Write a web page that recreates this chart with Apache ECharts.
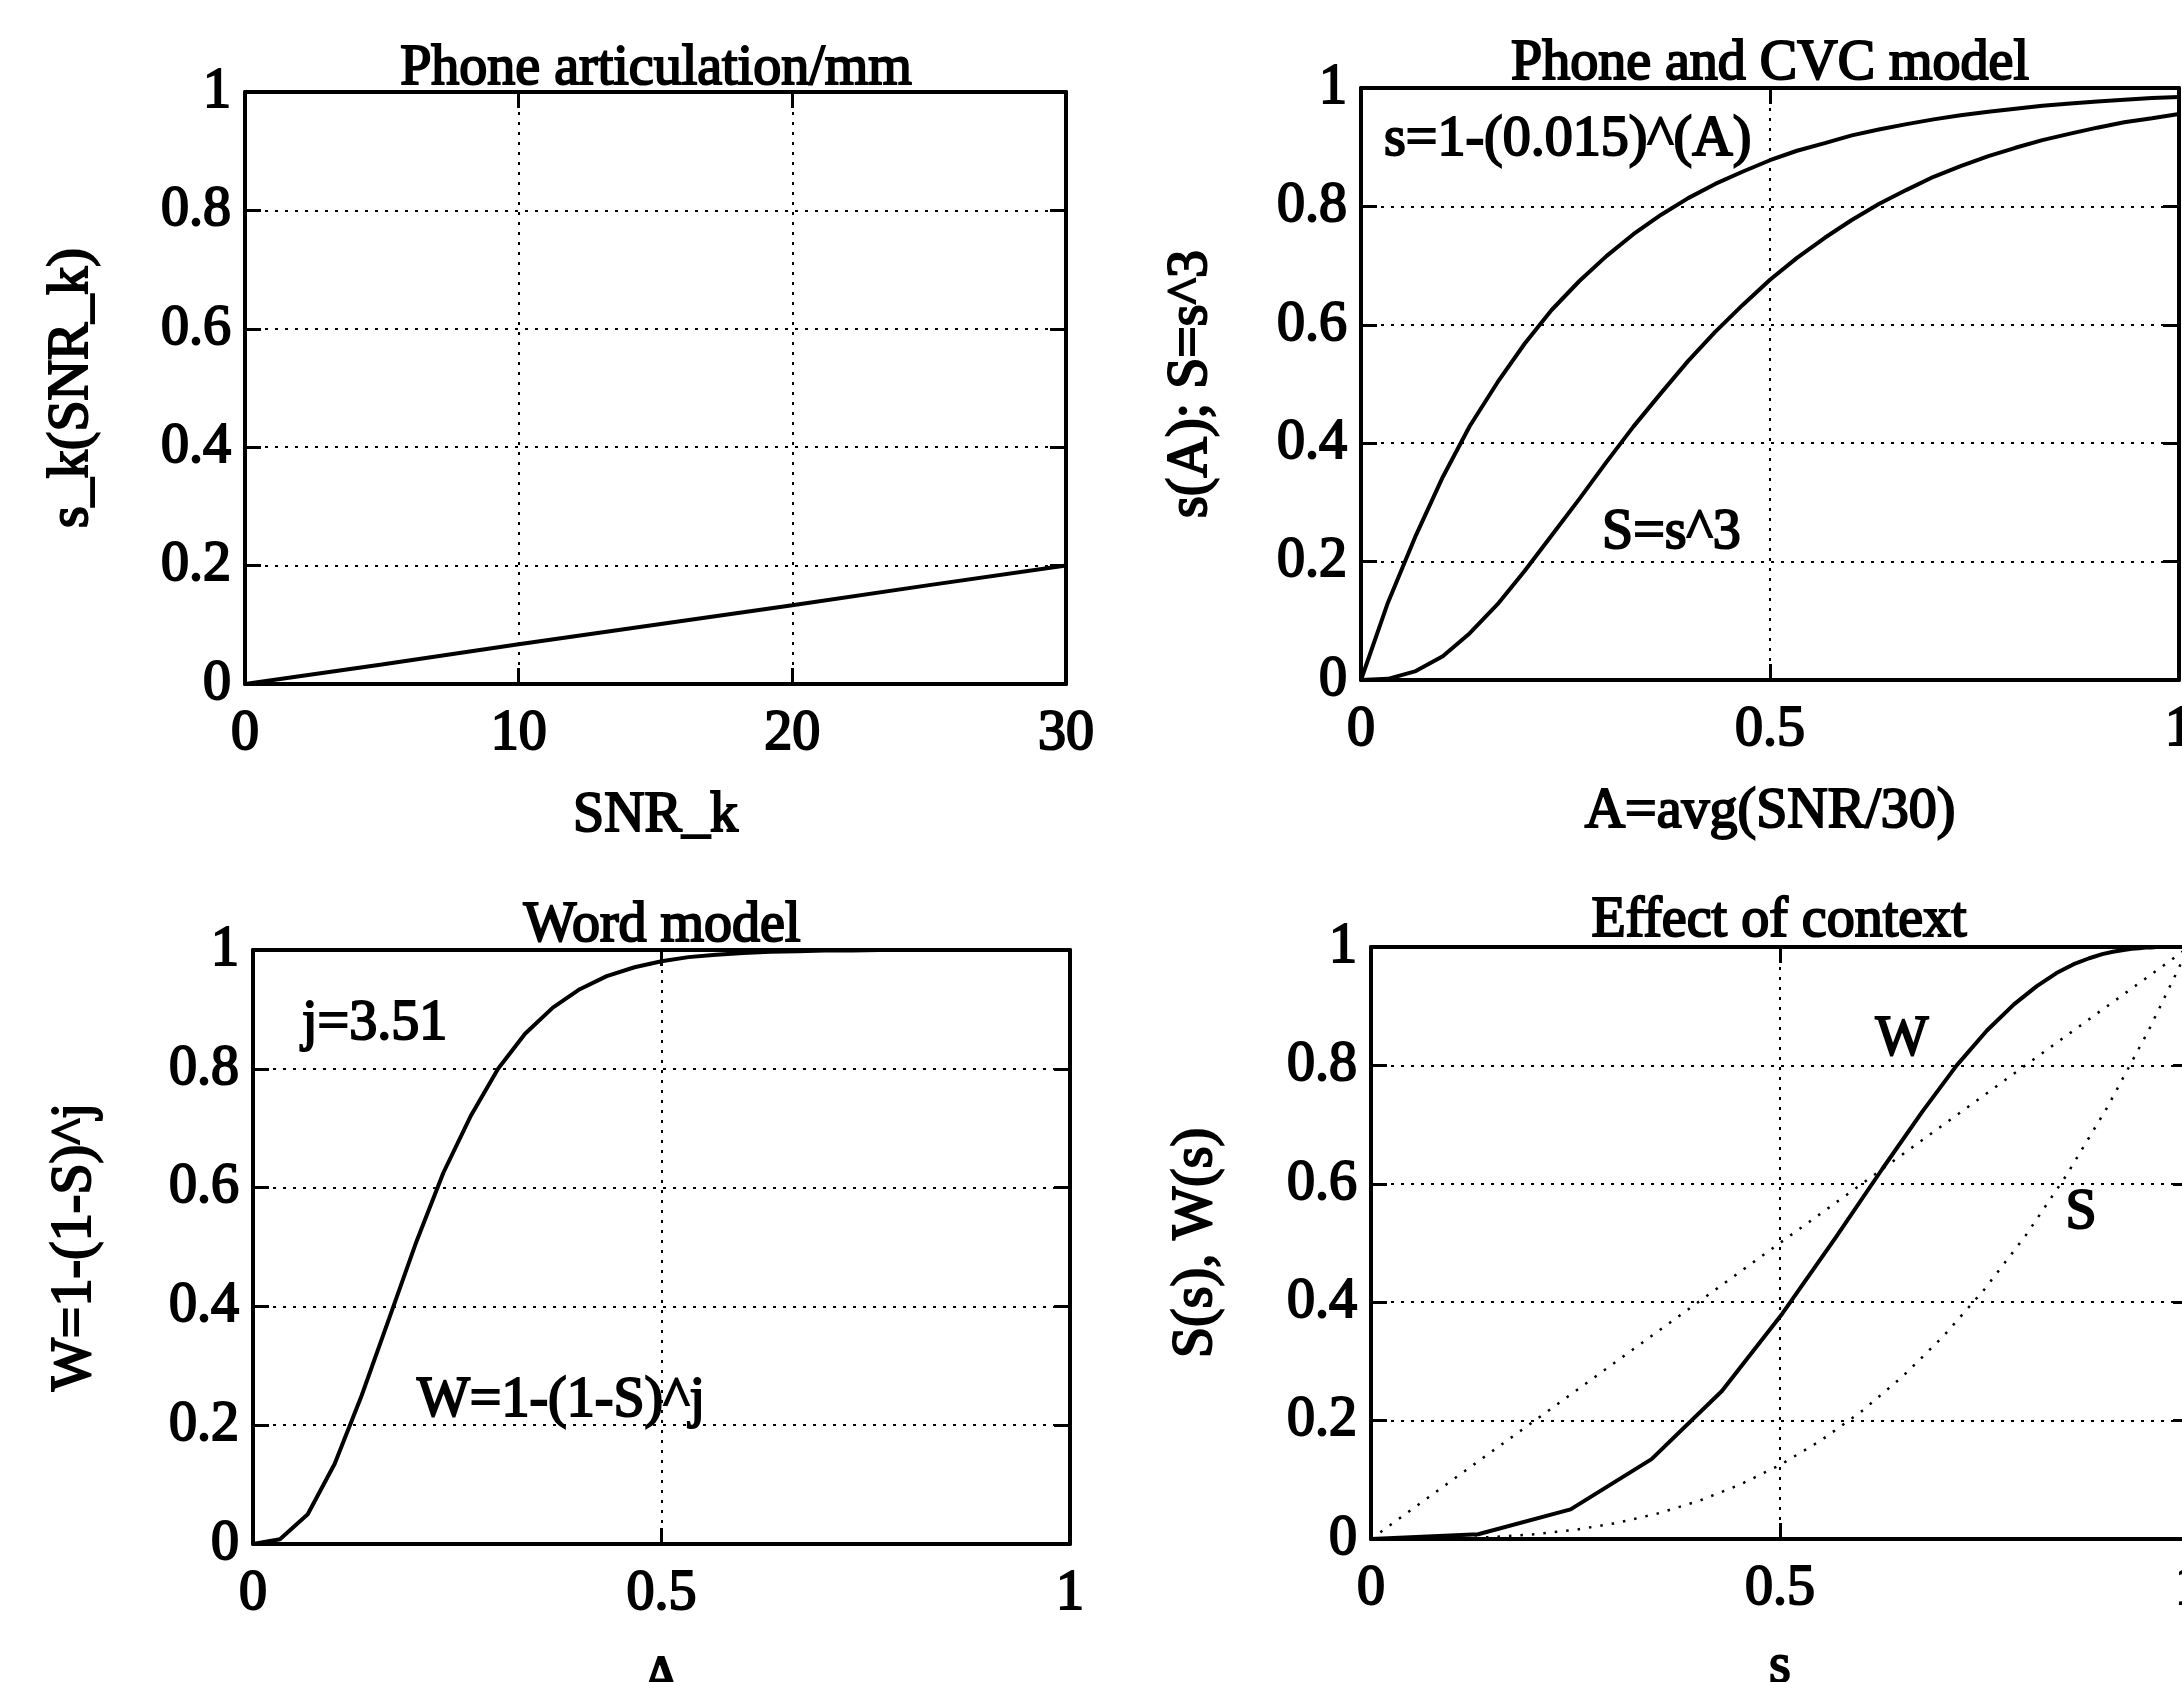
<!DOCTYPE html>
<html><head><meta charset="utf-8">
<script src="https://cdn.jsdelivr.net/npm/echarts@6/dist/echarts.min.js"></script>
<style>html,body{margin:0;padding:0;background:#fff}#c{width:2182px;height:1682px}</style>
</head><body><div id="c"></div>
<script>
// ---- Panel 1: Phone articulation/mm ----
const snrK = [0, 5, 10, 15, 20, 25, 30];
const skOfSnr = [0, 0.033, 0.067, 0.1, 0.133, 0.167, 0.2];

// ---- Panels 2-4: samples at A = SNR/30 (SNR = 0..30) ----
const aVals = [0, 0.033, 0.067, 0.1, 0.133, 0.167, 0.2, 0.233, 0.267, 0.3, 0.333,
  0.367, 0.4, 0.433, 0.467, 0.5, 0.533, 0.567, 0.6, 0.633, 0.667,
  0.7, 0.733, 0.767, 0.8, 0.833, 0.867, 0.9, 0.933, 0.967, 1];
const sOfA = [0, 0.131, 0.244, 0.343, 0.429, 0.503, 0.568, 0.625, 0.674, 0.716, 0.753,
  0.786, 0.814, 0.838, 0.859, 0.878, 0.894, 0.907, 0.920, 0.930, 0.939,
  0.947, 0.954, 0.960, 0.965, 0.970, 0.974, 0.977, 0.980, 0.983, 0.985];
const bigSOfA = [0, 0.002, 0.015, 0.040, 0.079, 0.128, 0.184, 0.244, 0.306, 0.368, 0.428,
  0.485, 0.539, 0.588, 0.634, 0.676, 0.713, 0.747, 0.777, 0.804, 0.828,
  0.850, 0.868, 0.885, 0.899, 0.912, 0.923, 0.933, 0.942, 0.949, 0.956];
const wOfA = [0, 0.008, 0.050, 0.135, 0.250, 0.381, 0.509, 0.625, 0.722, 0.800, 0.859,
  0.903, 0.934, 0.956, 0.971, 0.981, 0.988, 0.992, 0.995, 0.997, 0.998,
  0.999, 0.999, 1, 1, 1, 1, 1, 1, 1, 1];

// ---- Panel 4 dotted reference curves ----
const diagX = [0, 1];
const diagY = [0, 1];
const sFine = [0, 0.05, 0.1, 0.15, 0.2, 0.25, 0.3, 0.35, 0.4, 0.45, 0.5,
  0.55, 0.6, 0.65, 0.7, 0.75, 0.8, 0.85, 0.9, 0.95, 1];
const sCubedFine = [0, 0.0001, 0.001, 0.0034, 0.008, 0.0156, 0.027, 0.0429, 0.064, 0.0911, 0.125,
  0.1664, 0.216, 0.2746, 0.343, 0.4219, 0.512, 0.6141, 0.729, 0.8574, 1];

// ---- Ticks ----
const p1XTicks = [0, 10, 20, 30];
const unitXTicks = [0, 0.5, 1];
const yTicks = [0, 0.2, 0.4, 0.6, 0.8, 1];

// ---- Texts ----
const titles = ['Phone articulation/mm', 'Phone and CVC model', 'Word model', 'Effect of context'];
const xNames = ['SNR_k', 'A=avg(SNR/30)', 'A', 's'];
const yNames = ['s_k(SNR_k)', 's(A); S=s^3', 'W=1-(1-S)^j', 'S(s), W(s)'];

const zip = (xs, ys) => xs.map((x, i) => [x, ys[i]]);

const FONT = '"Liberation Serif", "Times New Roman", serif';
const FS = 56;
const txt = { fontFamily: FONT, fontSize: FS, color: '#000', textBorderColor: '#000', textBorderWidth: 2 };

const grids = [
  { left: 245, top: 92, width: 821, height: 592 },
  { left: 1361, top: 88, width: 818, height: 592 },
  { left: 253, top: 950, width: 817, height: 594 },
  { left: 1371, top: 947, width: 818, height: 592 }
].map(g => Object.assign({ containLabel: false, outerBoundsMode: 'none' }, g));

const xRanges = [
  { max: 30, interval: 10, ticks: p1XTicks },
  { max: 1, interval: 0.5, ticks: unitXTicks },
  { max: 1, interval: 0.5, ticks: unitXTicks },
  { max: 1, interval: 0.5, ticks: unitXTicks }
];
const xNameGaps = [104, 104, 108, 100];
const yNameGaps = [145, 142, 150, 147];

const gridLine = { show: true, lineStyle: { color: '#000', width: 2, type: [3, 7] } };
const axLine = { show: true, onZero: false, lineStyle: { color: '#000', width: 4 } };
const axTick = { show: true, inside: true, length: 16, lineStyle: { color: '#000', width: 3 } };

const xAxis = [], yAxis = [];
grids.forEach((g, i) => {
  const r = xRanges[i];
  xAxis.push({
    type: 'value', gridIndex: i, position: 'bottom', min: 0, max: r.max, interval: r.interval,
    axisLine: axLine, axisTick: axTick, splitLine: gridLine,
    axisLabel: Object.assign({ margin: 22, showMinLabel: true, showMaxLabel: true,
      formatter: v => (r.ticks.indexOf(v) >= 0 ? String(v) : '') }, txt),
    name: xNames[i], nameLocation: 'middle', nameGap: xNameGaps[i], nameTextStyle: txt
  });
  xAxis.push({
    type: 'value', gridIndex: i, position: 'top', min: 0, max: r.max, interval: r.interval,
    axisLine: axLine, axisTick: axTick, splitLine: { show: false }, axisLabel: { show: false }
  });
  yAxis.push({
    type: 'value', gridIndex: i, position: 'left', min: 0, max: 1, interval: 0.2,
    axisLine: axLine, axisTick: axTick, splitLine: gridLine,
    axisLabel: Object.assign({ margin: 14, formatter: v => String(yTicks.find(t => Math.abs(t - v) < 1e-9) ?? '') }, txt),
    name: yNames[i], nameLocation: 'middle', nameRotate: 90, nameGap: yNameGaps[i], nameTextStyle: txt
  });
  yAxis.push({
    type: 'value', gridIndex: i, position: 'right', min: 0, max: 1, interval: 0.2,
    axisLine: axLine, axisTick: axTick, splitLine: { show: false }, axisLabel: { show: false }
  });
});

const solid = { color: '#000', width: 4 };
const dotted = { color: '#000', width: 2.5, type: [2.5, 9] };
const base = { type: 'line', showSymbol: false, symbol: 'none', silent: true, animation: false, z: 5 };

const series = [
  Object.assign({}, base, { name: 's_k', xAxisIndex: 0, yAxisIndex: 0, data: zip(snrK, skOfSnr), lineStyle: solid }),
  Object.assign({}, base, { name: 's', xAxisIndex: 2, yAxisIndex: 2, data: zip(aVals, sOfA), lineStyle: solid }),
  Object.assign({}, base, { name: 'S', xAxisIndex: 2, yAxisIndex: 2, data: zip(aVals, bigSOfA), lineStyle: solid }),
  Object.assign({}, base, { name: 'W', xAxisIndex: 4, yAxisIndex: 4, data: zip(aVals, wOfA), lineStyle: solid }),
  Object.assign({}, base, { name: 'diag', xAxisIndex: 6, yAxisIndex: 6, data: zip(diagX, diagY), lineStyle: dotted }),
  Object.assign({}, base, { name: 'S(s)', xAxisIndex: 6, yAxisIndex: 6, data: zip(sFine, sCubedFine), lineStyle: dotted }),
  Object.assign({}, base, { name: 'W(s)', xAxisIndex: 6, yAxisIndex: 6, data: zip(sOfA, wOfA), lineStyle: solid })
];

function label(text, x, y, align) {
  return {
    type: 'text', x: x, y: y, z: 20,
    style: { text: text, font: FS + 'px ' + FONT, fill: '#000', stroke: '#000', lineWidth: 2,
      align: align, verticalAlign: 'middle', textAlign: align, textVerticalAlign: 'middle' }
  };
}

const graphic = [
  label(titles[0], 656, 69, 'center'),
  label(titles[1], 1770, 64, 'center'),
  label(titles[2], 662, 926, 'center'),
  label(titles[3], 1779, 921, 'center'),
  label('s=1-(0.015)^(A)', 1384, 140, 'left'),
  label('S=s^3', 1602, 533, 'left'),
  label('j=3.51', 302, 1024, 'left'),
  label('W=1-(1-S)^j', 417, 1401, 'left'),
  label('W', 1902, 1040, 'center'),
  label('S', 2081, 1213, 'center')
];

const chart = echarts.init(document.getElementById('c'), null, { renderer: 'canvas' });
chart.setOption({
  backgroundColor: '#fff',
  animation: false,
  grid: grids,
  xAxis: xAxis,
  yAxis: yAxis,
  series: series,
  graphic: graphic
});
</script>
</body></html>
